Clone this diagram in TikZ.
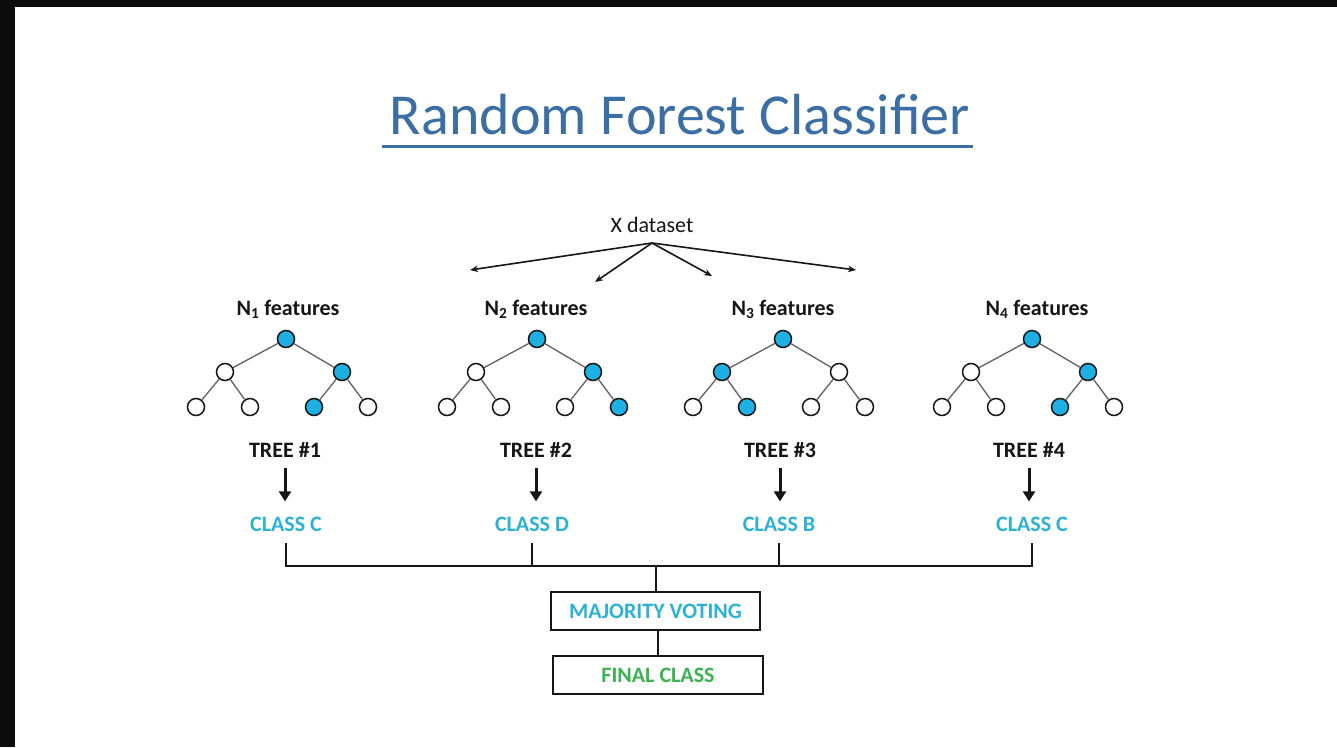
\documentclass[tikz,border=0pt]{standalone}
\usepackage{fontspec}
\setmainfont{Carlito}
\usetikzlibrary{arrows.meta}

\definecolor{titleblue}{RGB}{58,110,165}
\definecolor{nodeblue}{RGB}{30,176,226}
\definecolor{classcyan}{RGB}{45,178,214}
\definecolor{finalgreen}{RGB}{60,178,82}
\definecolor{frameblack}{RGB}{12,12,12}
\definecolor{inkdark}{RGB}{22,22,22}

% one binary tree: #1 name prefix, #2 x of the root,
% #3 root, #4 left, #5 right, #6-#9 leaves (styles hit / miss)
\newcommand{\drawforesttree}[9]{%
  \begin{scope}[shift={(#2,0)}]
    \node[#3] (#1r) at (0,339) {};
    \node[#4] (#1a) at (-61,372) {};
    \node[#5] (#1b) at (56,372) {};
    \node[#6] (#1c) at (-90,407) {};
    \node[#7] (#1d) at (-36,407) {};
    \node[#8] (#1e) at (28,407) {};
    \node[#9] (#1f) at (82,407) {};
    \draw[edge] (#1r) -- (#1a);
    \draw[edge] (#1r) -- (#1b);
    \draw[edge] (#1a) -- (#1c);
    \draw[edge] (#1a) -- (#1d);
    \draw[edge] (#1b) -- (#1e);
    \draw[edge] (#1b) -- (#1f);
  \end{scope}}

\begin{document}
\begin{tikzpicture}[x=1pt,y=-1pt,
  hit/.style={circle,draw=inkdark,line width=1.5pt,minimum size=17pt,inner sep=0pt,fill=nodeblue},
  miss/.style={hit,fill=white},
  edge/.style={draw=black!62,line width=1.3pt},
  feat/.style={font=\bfseries\fontsize{22}{24}\selectfont,text=inkdark,anchor=base,inner sep=0pt},
  treelabel/.style={font=\bfseries\fontsize{22}{24}\selectfont,text=inkdark,anchor=base,inner sep=2pt},
  classlabel/.style={font=\bfseries\fontsize{22}{24}\selectfont,text=classcyan,anchor=base,inner sep=2pt},
  split/.style={draw=inkdark,line width=1.6pt,-{Stealth[length=8pt,width=6.5pt]}},
  down/.style={draw=inkdark,line width=3pt,-{Triangle[length=10pt,width=12pt]},shorten <=9pt,shorten >=13pt},
  bus/.style={draw=inkdark,line width=2.5pt},
  box/.style={draw=inkdark,line width=2pt,minimum width=209pt,minimum height=38pt,inner sep=0pt,
              font=\bfseries\fontsize{22}{24}\selectfont}
]
% page and frame
\path[use as bounding box] (0,0) rectangle (1337,747);
\fill[frameblack] (0,0) rectangle (1337,747);
\fill[white] (15,7) rectangle (1337,747);

% heading
\node[font=\fontsize{58}{60}\selectfont,text=titleblue,anchor=base,inner sep=0pt] (title) at (680,134.5) {Random Forest Classifier};
\draw[titleblue,line width=3pt] ([xshift=-8pt,yshift=-11.5pt]title.base west) -- ([xshift=3pt,yshift=-11.5pt]title.base east);

% dataset split
\node[font=\fontsize{22}{24}\selectfont,text=inkdark,anchor=base,inner sep=0pt] (xds) at (652,232) {X dataset};
\coordinate (src) at (652,243);
\coordinate (s1) at (470,270);
\coordinate (s2) at (595,282);
\coordinate (s3) at (712,276);
\coordinate (s4) at (856,270);
\draw[split] (src) -- (s1);
\draw[split] (src) -- (s2);
\draw[split] (src) -- (s3);
\draw[split] (src) -- (s4);

% feature subsets
\node[feat] (f1) at (288,315) {N\textsubscript{1} features};
\node[feat] (f2) at (536,315) {N\textsubscript{2} features};
\node[feat] (f3) at (783,315) {N\textsubscript{3} features};
\node[feat] (f4) at (1037,315) {N\textsubscript{4} features};

% trees
\drawforesttree{p}{286}{hit}{miss}{hit}{miss}{miss}{hit}{miss}
\drawforesttree{q}{537}{hit}{miss}{hit}{miss}{miss}{miss}{hit}
\drawforesttree{u}{783}{hit}{hit}{miss}{miss}{hit}{miss}{miss}
\drawforesttree{v}{1032}{hit}{miss}{hit}{miss}{miss}{hit}{miss}

% tree outputs
\node[treelabel] (t1) at (285,457) {TREE \#1};
\node[treelabel] (t2) at (536,457) {TREE \#2};
\node[treelabel] (t3) at (780,457) {TREE \#3};
\node[treelabel] (t4) at (1029,457) {TREE \#4};

\node[classlabel] (c1) at (286,531) {CLASS C};
\node[classlabel] (c2) at (532,531) {CLASS D};
\node[classlabel] (c3) at (779,531) {CLASS B};
\node[classlabel] (c4) at (1032,531) {CLASS C};

\draw[down] (t1.south) -- (t1.south |- c1.north);
\draw[down] (t2.south) -- (t2.south |- c2.north);
\draw[down] (t3.south) -- (t3.south |- c3.north);
\draw[down] (t4.south) -- (t4.south |- c4.north);

% voting
\node[box,text=classcyan] (mv) at (655.5,611) {MAJORITY VOTING};
\node[box,text=finalgreen,minimum width=210pt] (fc) at (658,675) {FINAL CLASS};

\coordinate (bus) at (656,566);
\draw[bus] ([yshift=-10pt]c1.south) |- (bus) -| ([yshift=-10pt]c4.south);
\draw[bus] ([yshift=-10pt]c2.south) -- (c2.south |- bus);
\draw[bus] ([yshift=-10pt]c3.south) -- (c3.south |- bus);
\draw[bus] (bus) -- (bus |- mv.north);
\draw[draw=inkdark,line width=1.8pt] (fc.north |- mv.south) -- (fc.north);
\end{tikzpicture}
\end{document}
